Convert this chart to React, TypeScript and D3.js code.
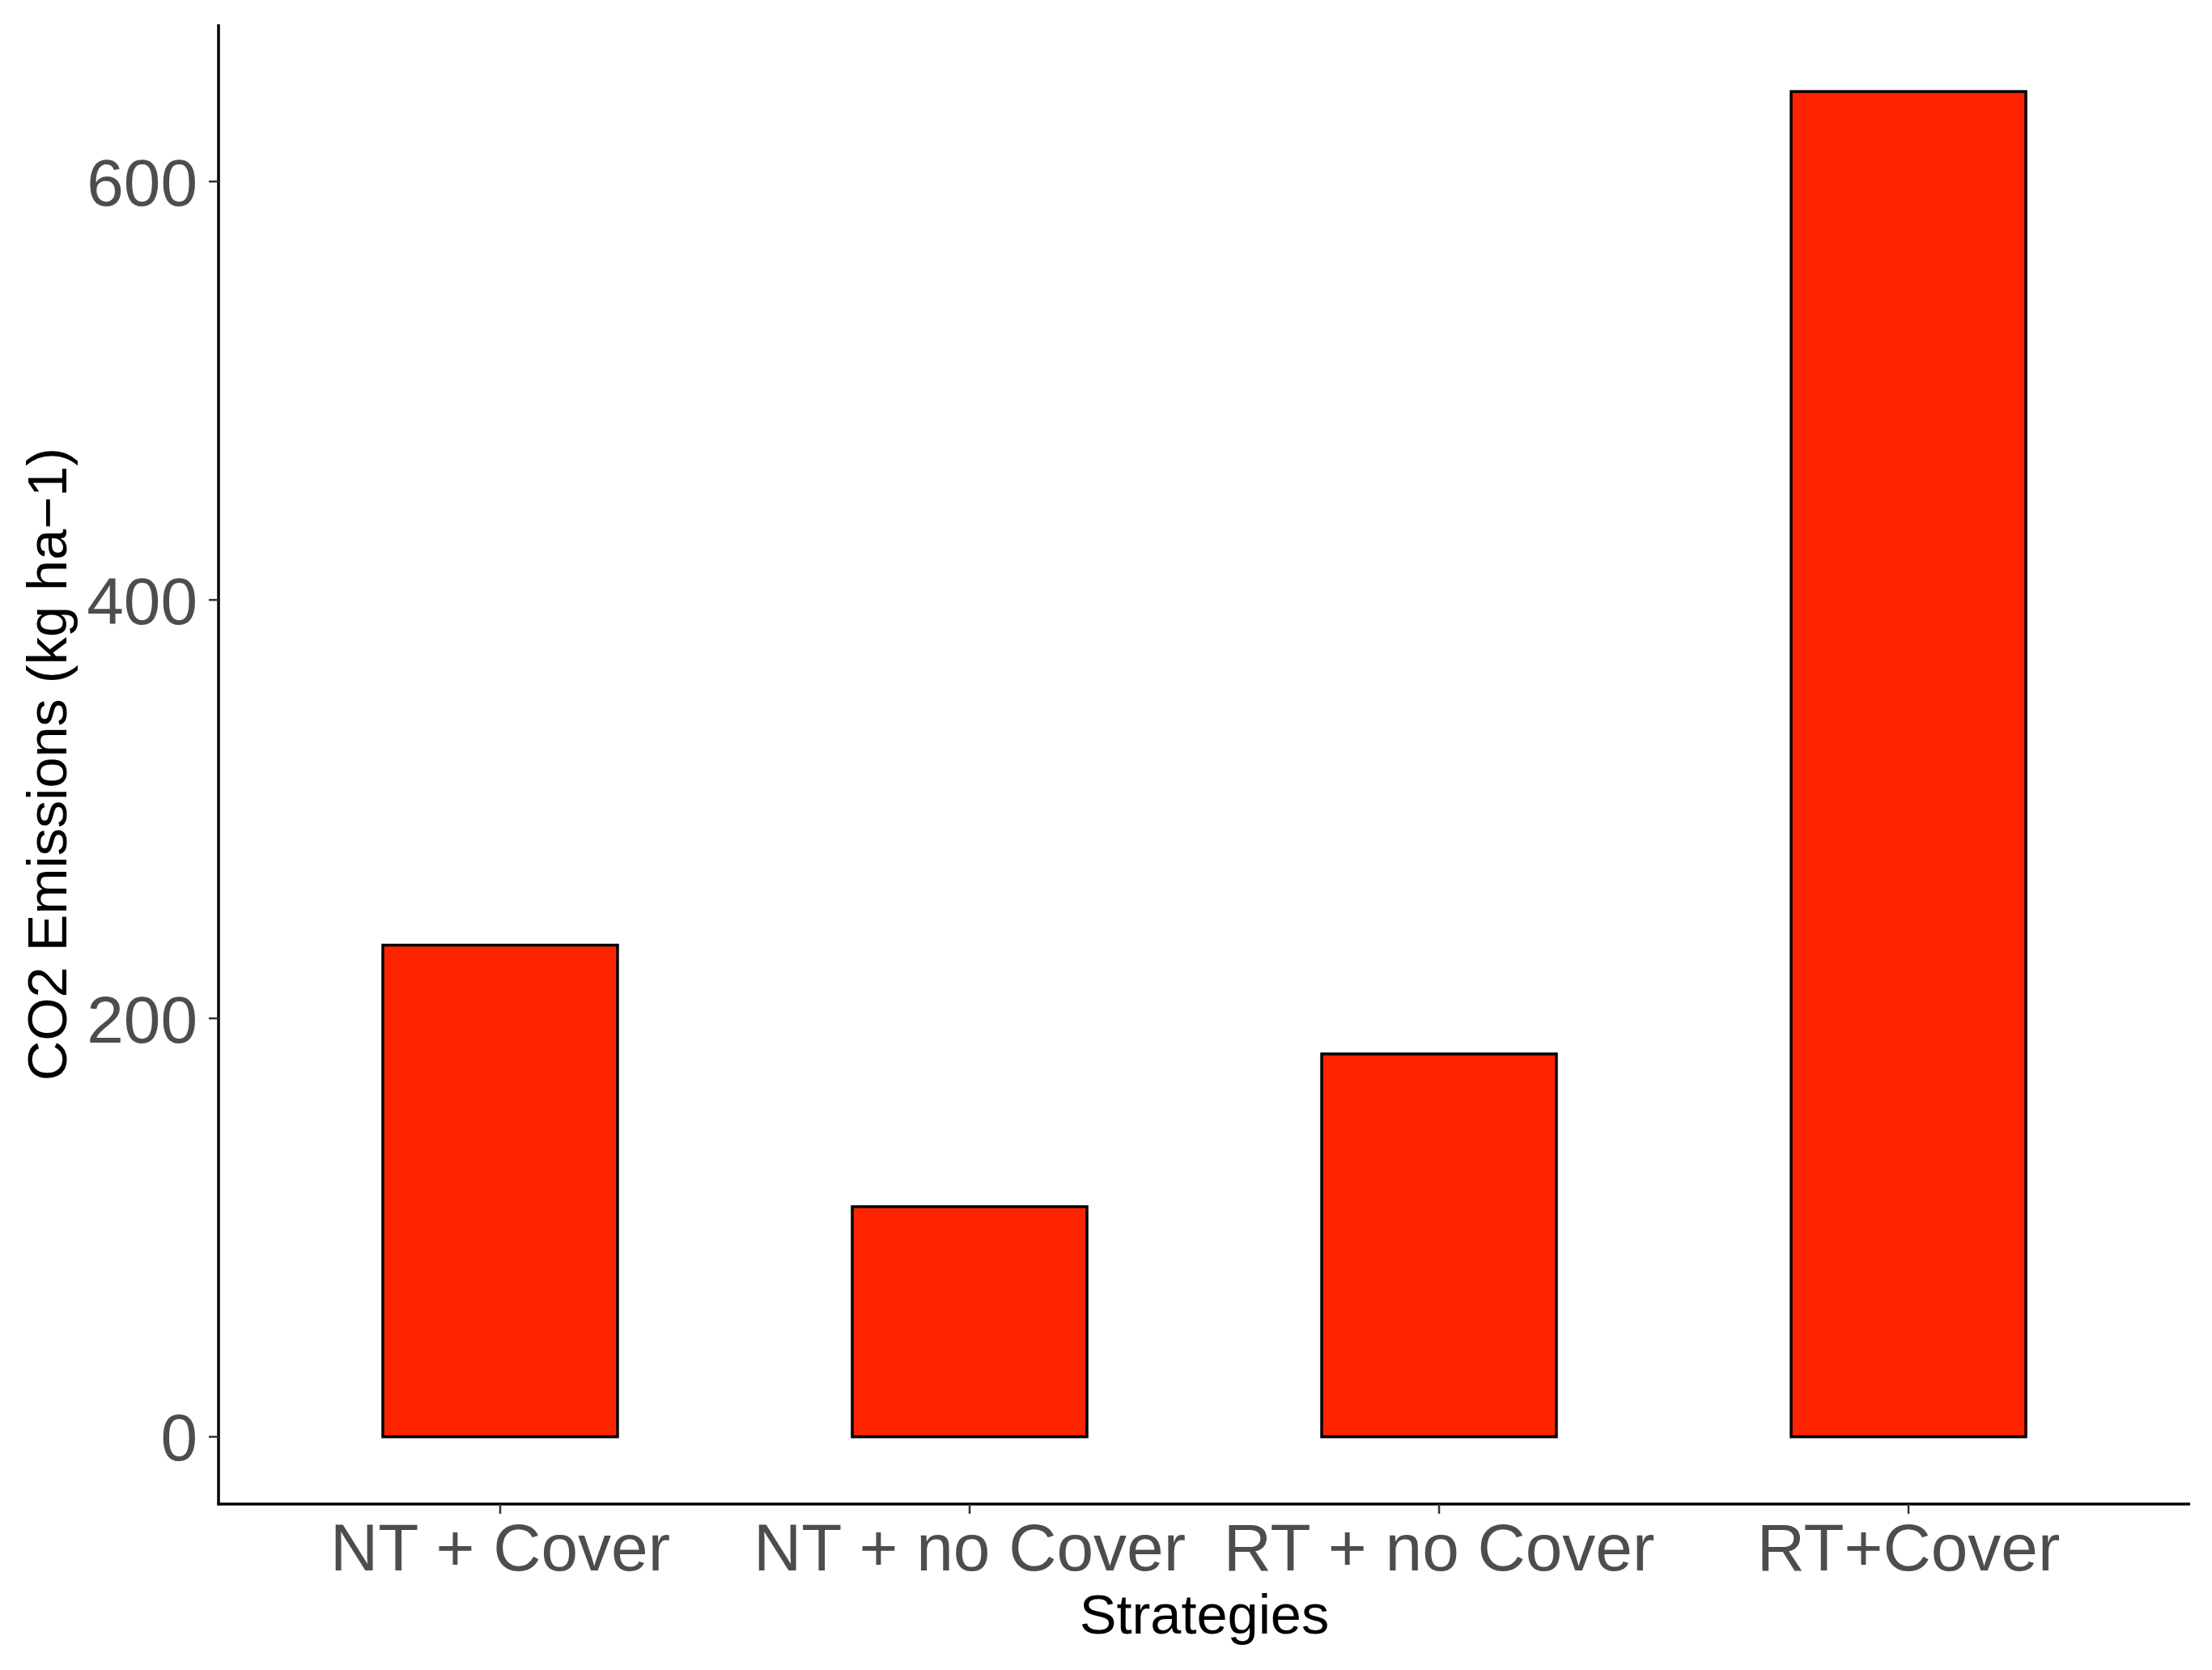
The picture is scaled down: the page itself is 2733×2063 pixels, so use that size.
import React from "react";
import * as d3 from "d3";

const categories = ["NT + Cover", "NT + no Cover", "RT + no Cover", "RT+Cover"];
const values = [235, 110, 183, 643];
const yTicks = [0, 200, 400, 600];
const xTitle = "Strategies";
const yTitle = "CO2 Emissions (kg ha\u22121)";

const W = 2733;
const H = 2063;
const panel = { left: 270, right: 2706, top: 30, bottom: 1858 };
const FONT = "'Liberation Sans', Arial, Helvetica, sans-serif";

export default function App() {
  const maxV = d3.max(values) as number;
  const y = d3
    .scaleLinear()
    .domain([-0.05 * maxV, maxV * 1.05])
    .range([panel.bottom, panel.top]);
  // ggplot-style discrete axis: 0.6 units padding each side
  const n = categories.length;
  const xc = d3
    .scaleLinear()
    .domain([0.4, n + 0.6])
    .range([panel.left, panel.right]);
  const barW = xc(1.25) - xc(0.75);

  return (
    <svg
      width={W}
      height={H}
      style={{ position: "absolute", left: 0, top: 0, background: "#fff" }}
      fontFamily={FONT}
    >
      <rect x={0} y={0} width={W} height={H} fill="#fff" />
      {values.map((v, i) => (
        <rect
          key={categories[i]}
          x={xc(i + 1) - barW / 2}
          y={y(v)}
          width={barW}
          height={y(0) - y(v)}
          fill="#FF2400"
          stroke="#000"
          strokeWidth={3.5}
        />
      ))}
      {/* axes */}
      <line x1={panel.left} x2={panel.left} y1={panel.top} y2={panel.bottom + 1.5} stroke="#000" strokeWidth={3.5} />
      <line x1={panel.left - 1.5} x2={panel.right} y1={panel.bottom} y2={panel.bottom} stroke="#000" strokeWidth={3.5} />
      {yTicks.map((t) => (
        <g key={t}>
          <line x1={panel.left - 12} x2={panel.left} y1={y(t)} y2={y(t)} stroke="#333" strokeWidth={2.5} />
          <text
            x={panel.left - 26}
            y={y(t)}
            dy="0.36em"
            textAnchor="end"
            fontSize={82}
            fill="#4D4D4D"
          >
            {t}
          </text>
        </g>
      ))}
      {categories.map((c, i) => (
        <g key={c}>
          <line x1={xc(i + 1)} x2={xc(i + 1)} y1={panel.bottom} y2={panel.bottom + 12} stroke="#333" strokeWidth={2.5} />
          <text x={xc(i + 1)} y={1940} textAnchor="middle" fontSize={82} fill="#4D4D4D">
            {c}
          </text>
        </g>
      ))}
      <text x={(panel.left + panel.right) / 2} y={2018} textAnchor="middle" fontSize={68.5} fill="#000">
        {xTitle}
      </text>
      <text
        transform={`translate(82, ${(panel.top + panel.bottom) / 2}) rotate(-90)`}
        textAnchor="middle"
        fontSize={68.5}
        fill="#000"
      >
        {yTitle}
      </text>
    </svg>
  );
}
